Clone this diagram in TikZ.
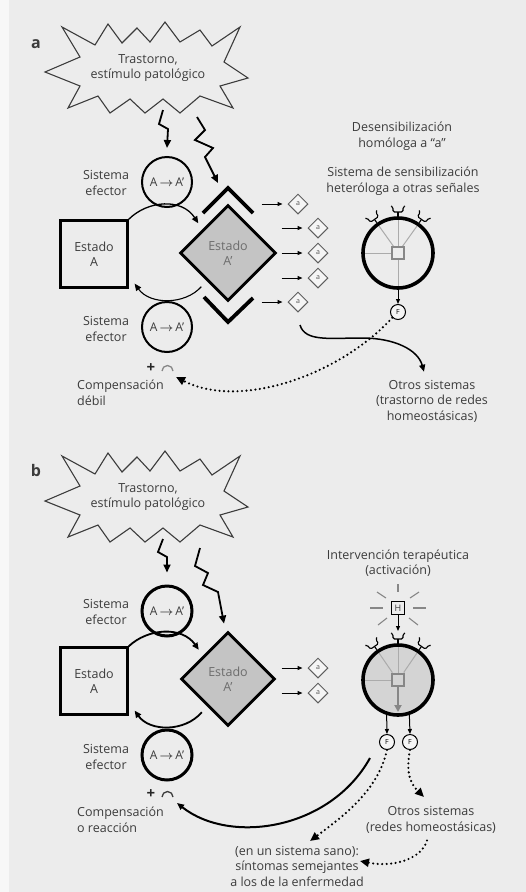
\documentclass[tikz,border=0pt]{standalone}
\usepackage{fontspec}
\setmainfont{Open Sans}
\usetikzlibrary{arrows.meta,shapes.geometric,calc}
\definecolor{bgc}{RGB}{236,236,236}
\definecolor{txc}{RGB}{60,60,60}
\definecolor{dfill}{RGB}{196,196,196}
\definecolor{cfill}{RGB}{212,212,212}
\definecolor{lgray}{RGB}{135,135,135}
\newcommand\mystarpath{(45,72) -- (80,57) -- (62,27) -- (95,45) -- (108,24) -- (122,43) -- (137,28) -- (150,42) -- (165,22) -- (180,42) -- (200,30) -- (212,46) -- (240,27) -- (224,62) -- (248,78) -- (220,86) -- (233,108) -- (200,96) -- (180,113) -- (163,99) -- (145,113) -- (130,99) -- (110,113) -- (98,96) -- (68,108) -- (80,86) -- cycle}
\newcommand\AtoA{A\,{\boldmath$\rightarrow$}\,A'}
\tikzset{
  lbl/.style={font=\fontsize{12.5}{15.5}\selectfont, text=txc, align=center, inner sep=0pt},
  eff/.style={circle, draw, line width=#1, minimum size=50pt, inner sep=0pt, font=\fontsize{12}{13}\selectfont, text=txc},
  eff/.default=2pt,
  sqbox/.style={lbl, draw, line width=2.2pt, minimum size=67pt},
  bigd/.style={lbl, diamond, draw, line width=2.8pt, fill=dfill, minimum size=#1, text=txc!75},
  smd/.style={diamond, draw=lgray!70!black, line width=1pt, minimum size=20pt, inner sep=0pt, fill=bgc!50!white, font=\fontsize{7}{7}\selectfont, text=lgray!60!black},
  sens/.style={circle, draw, line width=3.6pt, minimum size=70pt, inner sep=0pt},
  fc/.style={circle, draw, line width=1pt, minimum size=15pt, inner sep=0pt, font=\fontsize{7}{7}\selectfont, fill=bgc!50!white},
  bolt/.style={line width=1.8pt, line join=miter, -{Triangle[length=8pt,width=7pt]}},
  arr/.style={line width=#1, -{Triangle[length=7pt,width=6pt]}},
  arr/.default=1.2pt,
  smarr/.style={line width=1pt, -{Triangle[length=5pt,width=4pt]}},
  dots/.style={line width=2.4pt, line cap=round, dash pattern=on 0pt off 4.5pt, -{Triangle[length=9pt,width=8pt]}},
  starline/.style={draw=txc, line width=1.1pt, line join=miter},
  inner/.style={draw=lgray!70, line width=1pt},
  chev/.style={line width=3.8pt, line join=miter},
  cupline/.style={line width=1.1pt, rounded corners=1.5pt},
  rcup/.pic={\draw[cupline] (-7,-6) -- (-5,-5) -- (-5,0) -- (5,0) -- (5,-5) -- (7,-6); \draw[line width=1.1pt] (0,0) -- (0,4);},
  plab/.style={font=\fontsize{16}{16}\selectfont\bfseries, text=txc},
  plus/.style={font=\fontsize{15}{15}\selectfont\bfseries, text=black!85, inner sep=0pt}
}
\begin{document}
\begin{tikzpicture}[x=1pt,y=-1pt]
\useasboundingbox (0,0) rectangle (526,892);
\fill[bgc] (0,0) rectangle (526,892);
\fill[white!60!bgc] (0,0) rectangle (9,892);

%================ PANEL a ================
\node[plab] (la) at (36,44) {a};
\draw[starline] \mystarpath;
\node[lbl] (starA) at (148,68) {Trastorno,\\estímulo patológico};

\node[eff] (effTa) at (167,182) {\AtoA};
\node[eff] (effBa) at (167,327) {\AtoA};
\node[lbl] (seTa) at (106,183) {Sistema\\efector};
\node[lbl] (seBa) at (106,329) {Sistema\\efector};

\node[sqbox] (sqA) at (94,254) {Estado\\A};
\node[bigd=96pt] (dA) at (228,253) {Estado\\A'};

% chevrons
\draw[chev] (203,213) -- (228,188) -- (253,213);
\draw[chev] (204,297) -- (228,322) -- (253,298);

% bolts
\coordinate (b1a) at (163,110);
\coordinate (b2a) at (197,117);
\draw[bolt] (b1a) -- (159,124) -- (168,129) -- ($(effTa.north)+(0,-8)$);
\draw[bolt] (b2a) -- (205,130) -- (195,140) -- (213,148) -- (205,157) -- (218,183);

% arcs
\draw[arr=1.3pt] (sqA.north east) .. controls (148,200) and (182,198) .. ($(dA.north west)+(-5,-5)$);
\draw[arr=1.1pt] ($(dA.south west)+(-2,9)$) .. controls (185,305) and (150,305) .. ($(sqA.south east)+(6,-5)$);

% small diamonds
\node[smd] (rA1) at (298,204) {a};
\node[smd] (rA2) at (318,228) {a};
\node[smd] (rA3) at (318,253) {a};
\node[smd] (rA4) at (318,278) {a};
\node[smd] (rA5) at (298,302) {a};
\foreach \r in {rA1,rA2,rA3,rA4,rA5}
  \draw[smarr] ($(\r.west)+(-26,0)$) -- ($(\r.west)+(-5,0)$);

% sensitisation circle a
\node[sens] (bigA) at (398,253) {};
\draw[inner] (398,247) -- (398,220);
\draw[inner] (398,259) -- (398,286);
\draw[inner] (392,253) -- (365,253);
\draw[inner] (394,247) -- (379,226);
\draw[inner] (402,247) -- (417,226);
\draw[draw=lgray, line width=1.6pt] (392,247) rectangle (404,259);
\pic[rotate=35] at (374.5,219.4) {rcup};
\pic at (398,212) {rcup};
\pic[rotate=-35] at (421.5,219.4) {rcup};
\node[fc] (fA) at (398,312) {F};
\draw[smarr] (bigA.south) -- (fA.north);

\node[lbl] (desA) at (402,136) {Desensibilización\\homóloga a ``a''};
\node[lbl] (hetA) at (403,181) {Sistema de sensibilización\\heteróloga a otras señales};
\node[lbl] (otA) at (432,401) {Otros sistemas\\(trastorno de redes\\homeostásicas)};

% compensation a
\node[plus] (plA) at (151,368) {+};
\draw[lgray, line width=1.3pt] (162,371) arc (180:360:5.5);
\coordinate (cmpA) at (176,377);
\node[lbl, align=left, anchor=west] (compA) at (77,393) {Compensación\\débil};

\draw[dots] (fA.south west) .. controls (340,375) and (240,410) .. (cmpA);
\draw[arr=1.5pt] (300,325) .. controls (305,342) and (330,338) .. (362,338) .. controls (395,338) and (418,350) .. ($(otA.north)+(-8,-8)$);

%================ PANEL b ================
\node[plab] (lb) at (36,470) {b};
\begin{scope}[shift={(0,429)}]
\draw[starline] \mystarpath;
\node[lbl] (starB) at (148,68) {Trastorno,\\estímulo patológico};
\end{scope}

\node[eff=3pt] (effTb) at (167,611) {\AtoA};
\node[eff=3pt] (effBb) at (167,755) {\AtoA};
\node[lbl] (seTb) at (106,612) {Sistema\\efector};
\node[lbl] (seBb) at (106,757) {Sistema\\efector};

\node[sqbox] (sqB) at (94,681) {Estado\\A};
\node[bigd=94pt] (dB) at (228,679) {Estado\\A'};

\coordinate (b1b) at (163,539);
\coordinate (b2b) at (200,548);
\draw[bolt] (b1b) -- (158,552) -- (167,557) -- ($(effTb.north)+(0,-12)$);
\draw[bolt] (b2b) -- (195,566) -- (208,573) -- (203,585) -- (218,592) -- ($(dB.north)+(-4,-7)$);

\draw[arr=1.8pt] (sqB.north east) .. controls (148,628) and (182,626) .. ($(dB.north west)+(-5,-5)$);
\draw[arr=1.8pt] ($(dB.south west)+(-2,9)$) .. controls (185,732) and (150,732) .. ($(sqB.south east)+(6,-5)$);

\node[smd] (rB1) at (318,668) {a};
\node[smd] (rB2) at (318,693) {a};
\foreach \r in {rB1,rB2}
  \draw[smarr] ($(\r.west)+(-26,0)$) -- ($(\r.west)+(-5,0)$);

% therapeutic intervention
\node[lbl] (intB) at (398,563) {Intervención terapéutica\\(activación)};
\node[draw, line width=1.1pt, minimum size=13pt, inner sep=0pt, font=\fontsize{9}{9}\selectfont, text=txc] (hB) at (398,608) {H};
\draw[lgray, line width=1.1pt] (370,608) -- (383,608);
\draw[lgray, line width=1.1pt] (413,608) -- (426,608);
\draw[lgray, line width=1.1pt] (398,584) -- (398,592);
\draw[lgray, line width=1.1pt] (377,592) -- (386,598);
\draw[lgray, line width=1.1pt] (419,592) -- (410,598);
\draw[lgray, line width=1.1pt] (378,625) -- (387,618);
\draw[lgray, line width=1.1pt] (418,625) -- (409,618);

\node[sens, fill=cfill] (bigB) at (398,680) {};
\draw[inner] (398,674) -- (398,647);
\draw[inner] (392,680) -- (365,680);
\draw[inner] (379,653) -- (392,672) -- (392,674);
\draw[inner] (417,653) -- (404,672) -- (404,674);
\draw[draw=lgray, line width=1.6pt] (392,674) rectangle (404,686);
\draw[lgray, line width=2.6pt, -{Triangle[length=7pt,width=7pt]}] (398,687) -- (398,712);
\pic[rotate=35] at (374.5,646.4) {rcup};
\pic at (398,639) {rcup};
\pic[rotate=-35] at (421.5,646.4) {rcup};
\draw[smarr] (hB.south) -- (398,631);

\node[fc] (fB1) at (387,742) {F};
\node[fc] (fB2) at (410,742) {F};
\draw[smarr] (bigB.252) -- (fB1.north);
\draw[smarr] (bigB.288) -- (fB2.north);

\node[lbl] (otB) at (431,820) {Otros sistemas\\(redes homeostásicas)};
\node[lbl] (sanoB) at (297,866) {(en un sistema sano):\\síntomas semejantes\\a los de la enfermedad};

\node[plus] (plB) at (151,794) {+};
\draw[txc, line width=1.3pt] (162,797) arc (180:360:5.5);
\node[lbl, align=left, anchor=west] (compB) at (77,820) {Compensación\\o reacción};

\coordinate (cmpB) at (177,803);
\draw[arr=2pt] (370,758) .. controls (330,830) and (230,845) .. (cmpB);
\draw[dots] (fB1.south) .. controls (378,790) and (345,815) .. (310,841);
\draw[dots] (fB2.south) .. controls (405,775) and (412,785) .. (424,797);
\draw[dots] ($(otB.south)+(-4,7)$) .. controls (422,858) and (395,868) .. (360,861);
\end{tikzpicture}
\end{document}
